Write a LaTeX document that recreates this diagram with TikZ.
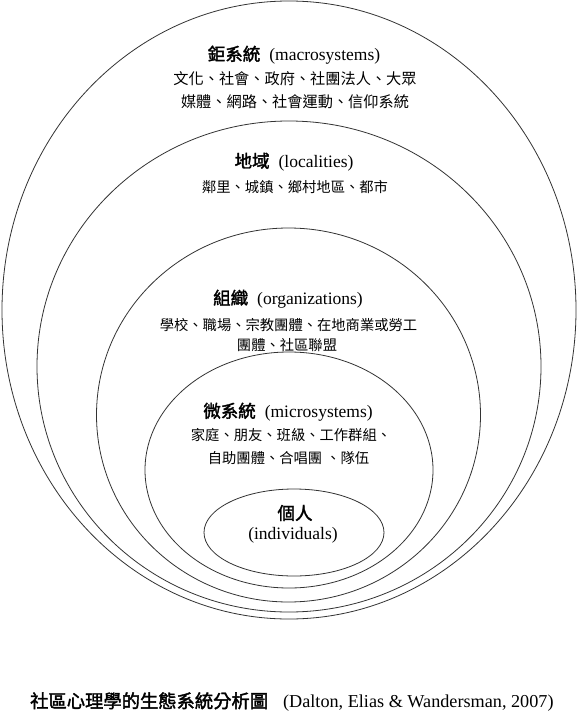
\documentclass[tikz,border=0pt]{standalone}
\usepackage{fontspec}
\setmainfont{Liberation Serif}
\newfontfamily\cjk{Noto Sans CJK TC}
\newfontfamily\cjkb[FakeBold=2]{Noto Sans CJK TC}
\begin{document}
\begin{tikzpicture}[x=1pt,y=-1pt,
  ring/.style={draw=black!80, line width=0.8pt},
  ttl/.style={inner sep=0pt, font=\fontsize{17.5}{20}\selectfont},
  body/.style={inner sep=0pt, font=\cjk\fontsize{14.3}{16}\selectfont},
  captxt/.style={inner sep=0pt, font=\fontsize{18.2}{20}\selectfont}]
\useasboundingbox (0,0) rectangle (578,728);
\fill[white] (0,0) rectangle (578,728);
% ellipses
\draw[ring] (289,310) ellipse [x radius=287, y radius=309];
\draw[ring] (289,366.5) ellipse [x radius=252, y radius=245.5];
\draw[ring] (288.5,415) ellipse [x radius=192, y radius=187];
\draw[ring] (289,470) ellipse [x radius=144, y radius=118];
\draw[ring] (294,532.5) ellipse [x radius=90, y radius=43.5];
% macrosystems
\node[ttl] (macT) at (294,55) {{\cjkb 鉅系統}\hspace{9pt}(macrosystems)};
\node[body, font=\cjk\fontsize{15.2}{16}\selectfont] (macA) at (295,79) {文化、社會、政府、社團法人、大眾};
\node[body, font=\cjk\fontsize{15.2}{16}\selectfont] (macB) at (295,102) {媒體、網路、社會運動、信仰系統};
% localities
\node[ttl] (locT) at (294,162) {{\cjkb 地域}\hspace{9pt}(localities)};
\node[body] (locA) at (295,187) {鄰里、城鎮、鄉村地區、都市};
% organizations
\node[ttl] (orgT) at (288,299) {{\cjkb 組織}\hspace{9pt}(organizations)};
\node[body] (orgA) at (288.5,325) {學校、職場、宗教團體、在地商業或勞工};
\node[body] (orgB) at (287,345) {團體、社區聯盟};
% microsystems
\node[ttl] (micT) at (288,412) {{\cjkb 微系統}\hspace{9pt}(microsystems)};
\node[body] (micA) at (291,435) {家庭、朋友、班級、工作群組、};
\node[body] (micB) at (288.5,458) {自助團體、合唱團\hspace{4pt}、隊伍};
% individuals
\node[ttl] (indT) at (295,513) {\cjkb 個人};
\node[ttl] (indA) at (293,535) {(individuals)};
% caption
\node[captxt, anchor=west] (capt) at (30,702) {{\cjkb\fontsize{18.3}{20}\selectfont 社區心理學的生態系統分析圖}\hspace{15pt}(Dalton, Elias \& Wandersman, 2007)};
\end{tikzpicture}
\end{document}
